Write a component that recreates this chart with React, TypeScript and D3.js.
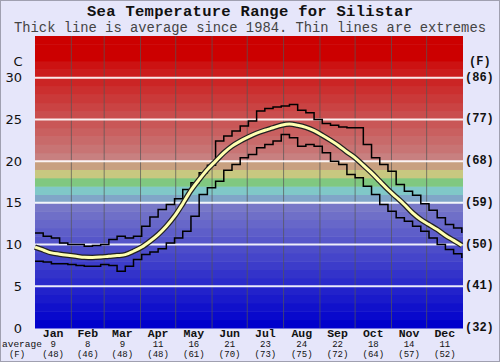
import React from 'react';
import * as d3 from 'd3';

// day-of-year samples (weekly) and readings in degrees C
const days = [0, 7, 14, 21, 28, 35, 42, 49, 56, 63, 70, 77, 84, 91, 98, 105, 112, 119, 126, 133, 140, 147, 154, 161, 168, 175, 182, 189, 196, 203, 210, 217, 224, 231, 238, 245, 252, 259, 266, 273, 280, 287, 294, 301, 308, 315, 322, 329, 336, 343, 350, 357, 364];
const avgTemp = [9.7, 9.35, 9.0, 8.85, 8.72, 8.6, 8.47, 8.45, 8.5, 8.6, 8.68, 8.8, 9.2, 9.7, 10.4, 11.2, 12.2, 13.4, 14.9, 16.5, 17.8, 19.0, 20.0, 21.0, 21.8, 22.4, 22.9, 23.35, 23.7, 24.0, 24.3, 24.45, 24.3, 24.05, 23.65, 23.1, 22.5, 21.85, 21.1, 20.4, 19.5, 18.6, 17.6, 16.6, 15.7, 14.8, 13.8, 13.0, 12.4, 11.8, 11.1, 10.5, 9.9];
const maxTemp = [11.4, 11.0, 10.8, 10.2, 10.0, 10.0, 9.8, 9.9, 10.0, 10.6, 11.0, 10.8, 11.0, 12.2, 13.3, 14.2, 14.8, 15.5, 16.6, 17.4, 18.6, 19.5, 22.4, 23.0, 23.6, 24.2, 24.8, 26.0, 26.3, 26.5, 26.6, 26.8, 26.1, 25.8, 25.0, 24.5, 24.3, 24.1, 24.0, 24.0, 22.0, 20.4, 19.6, 18.8, 17.2, 16.4, 15.9, 14.9, 14.1, 13.2, 12.4, 12.0, 11.4];
const minTemp = [8.0, 7.9, 7.7, 7.7, 7.6, 7.5, 7.4, 7.4, 7.6, 7.5, 6.8, 7.4, 8.2, 8.8, 9.1, 9.5, 10.2, 10.8, 11.6, 13.4, 16.0, 16.8, 17.6, 18.9, 19.6, 20.4, 20.8, 21.6, 22.0, 22.4, 23.2, 22.8, 21.8, 22.0, 21.8, 21.0, 20.0, 19.6, 18.4, 18.0, 17.0, 16.0, 14.8, 14.0, 13.2, 12.8, 12.2, 11.6, 10.8, 10.0, 9.4, 8.9, 8.4];

const months = ['Jan', 'Feb', 'Mar', 'Apr', 'May', 'Jun', 'Jul', 'Aug', 'Sep', 'Oct', 'Nov', 'Dec'];
const monthStart = [0, 31, 59, 90, 120, 151, 181, 212, 243, 273, 304, 334, 365];
const monthAvgC = [9, 8, 9, 11, 16, 21, 23, 24, 22, 18, 14, 11];
const monthAvgF = [48, 46, 48, 48, 61, 70, 73, 75, 72, 64, 57, 52];
const ticksC = [0, 5, 10, 15, 20, 25, 30];
const ticksF = [32, 41, 50, 59, 68, 77, 86];

const W = 500;
const H = 362;
const mono = '"Liberation Mono", "Courier New", monospace';
const sans = '"DejaVu Sans", Verdana, sans-serif';

const bandColor = (t: number) => {
  if (t < 15) return d3.interpolateRgb('#0000cc', '#7878c8')(t / 14);
  if (t < 16) return '#80a6c8';
  if (t < 17) return '#80c8c8';
  if (t < 18) return '#80c880';
  if (t < 19) return '#c8c880';
  if (t < 20) return '#c8a080';
  if (t < 21) return '#c88080';
  if (t >= 32) return '#cc0000';
  return d3.interpolateRgb('#c87474', '#cc0808')((t - 21) / 11);
};

export default function App() {
  const x = d3.scaleLinear().domain([0, 365]).range([35, 463]);
  const y = d3.scaleLinear().domain([0, 35]).range([328, 36]);

  const pts = (vals: number[]) => days.map((d, i) => [d, vals[i]] as [number, number]);
  const stepLine = d3.line<[number, number]>().x(d => x(d[0])).y(d => y(d[1])).curve(d3.curveStepAfter);
  const smoothLine = d3.line<[number, number]>().x(d => x(d[0])).y(d => y(d[1])).curve(d3.curveMonotoneX);

  const bands = d3.range(0, 35);

  return (
    <svg width={W} height={H} style={{ position: 'absolute', left: 0, top: 0, background: '#e6e6fa' }}>
      <rect x={0.5} y={0.5} width={W - 1} height={H - 1} fill="#e6e6fa" stroke="#a0a0b0" />
      <text x={250} y={16} textAnchor="middle" fontFamily={mono} fontWeight="bold" fontSize={15.5} fill="#111"
        textLength={326} lengthAdjust="spacing">
        Sea Temperature Range for Silistar
      </text>
      <text x={250} y={32} textAnchor="middle" fontFamily={mono} fontSize={13.8} fill="#444">
        Thick line is average since 1984. Thin lines are extremes
      </text>

      {bands.map(t => (
        <rect key={t} x={x(0)} y={y(t + 1)} width={x(365) - x(0)} height={y(t) - y(t + 1) + 0.5} fill={bandColor(t)} />
      ))}

      {monthStart.slice(1, 12).map(d => (
        <line key={d} x1={x(d)} x2={x(d)} y1={y(35)} y2={y(0)} stroke="#555" strokeOpacity={0.7} strokeWidth={1} />
      ))}
      {ticksC.slice(1).map(t => (
        <line key={t} x1={x(0)} x2={x(365)} y1={y(t)} y2={y(t)} stroke="#fff" strokeOpacity={0.9} strokeWidth={2} />
      ))}

      <path d={stepLine(pts(maxTemp)) || ''} fill="none" stroke="#000" strokeWidth={1.5} />
      <path d={stepLine(pts(minTemp)) || ''} fill="none" stroke="#000" strokeWidth={1.5} />
      <path d={smoothLine(pts(avgTemp)) || ''} fill="none" stroke="#222" strokeWidth={5.5} strokeLinejoin="round" />
      <path d={smoothLine(pts(avgTemp)) || ''} fill="none" stroke="#ffffb0" strokeWidth={3} strokeLinejoin="round" />

      <text x={18} y={61} textAnchor="middle" dominantBaseline="central" fontFamily={sans} fontSize={13} fill="#111">C</text>
      {ticksC.map(t => (
        <text key={t} x={22} y={y(t)} textAnchor="end" dominantBaseline="central" fontFamily={sans} fontSize={13} fill="#111">
          {t}
        </text>
      ))}
      <text x={469} y={62} dominantBaseline="central" fontFamily={mono} fontWeight="bold" fontSize={12} fill="#111">(F)</text>
      {ticksF.map((f, i) => (
        <text key={f} x={465} y={y(ticksC[i])} dominantBaseline="central" fontFamily={mono} fontWeight="bold" fontSize={12} fill="#111">
          ({f})
        </text>
      ))}

      {months.map((m, i) => {
        const cx = x((monthStart[i] + monthStart[i + 1]) / 2);
        return (
          <g key={m} fontFamily={mono} fill="#111" textAnchor="middle">
            <text x={cx} y={336.5} fontWeight="bold" fontSize={11.5}>{m}</text>
            <text x={cx} y={346.5} fontSize={9}>{monthAvgC[i]}</text>
            <text x={cx} y={356.5} fontSize={9}>({monthAvgF[i]})</text>
          </g>
        );
      })}
      <text x={2} y={346.5} fontFamily={mono} fontSize={9.5} fill="#111">average</text>
      <text x={17} y={356.5} textAnchor="middle" fontFamily={mono} fontSize={9} fill="#111">(F)</text>
    </svg>
  );
}
